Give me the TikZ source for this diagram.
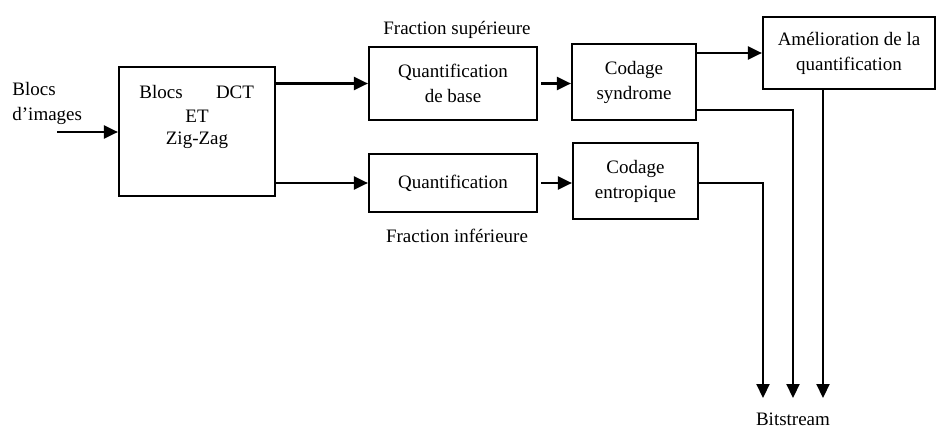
\documentclass[tikz,border=0pt]{standalone}
\usepackage{fontspec}
\setmainfont{Liberation Serif}
\usetikzlibrary{arrows.meta,calc}
\begin{document}
\begin{tikzpicture}[x=0.5pt,y=-0.5pt,
  txt/.style={font=\fontsize{9.5}{12.5}\selectfont},
  blk/.style={draw, line width=1.1pt, inner sep=0pt, align=center, txt},
  lbl/.style={inner sep=0pt, align=center, txt},
  arr/.style={line width=1.1pt, -{Triangle[length=7pt,width=6.5pt]}},
  wire/.style={line width=1.1pt}]
\useasboundingbox (0,0) rectangle (939,429);

% processing blocks
\node[blk, minimum width=78pt, minimum height=64.5pt] (dct) at (197,131.5) {};
\node[lbl] (dctA) at (161,92) {Blocs};
\node[lbl] (dctB) at (235,92) {DCT};
\node[lbl] (dctC) at (197,116) {ET};
\node[lbl] (dctD) at (197,140) {Zig-Zag};

\node[blk, minimum width=84pt, minimum height=36.5pt] (qb) at (453,83.5) {Quantification\\de base};
\node[blk, minimum width=84pt, minimum height=29pt] (q) at (453,183) {Quantification};
\node[blk, minimum width=62pt, minimum height=38pt] (cs) at (634,82) {Codage\\syndrome};
\node[blk, minimum width=62.5pt, minimum height=38pt] (ce) at (635.5,181) {Codage\\entropique};
\node[blk, minimum width=86pt, minimum height=36pt] (am) at (849,53) {Amélioration de la\\quantification};

% labels
\node[lbl, align=left, anchor=west] (inlbl) at (12,103) {Blocs\\d’images};
\node[lbl] (fsup) at (457,30) {Fraction supérieure};
\node[lbl] (finf) at (457,236) {Fraction inférieure};
\node[lbl] (bits) at (793,419) {Bitstream};

% end points
\coordinate (in) at (57,132);
\coordinate (b1) at (763,398);
\coordinate (b2) at (793,398);
\coordinate (b3) at (823,398);

% connectors
\draw[arr] (in) -- (in -| dct.west);
\draw[arr] (dct.east |- qb) -- (qb.west);
\draw[arr] (dct.east |- q) -- (q.west);
\draw[arr] ($(qb.east)+(3,0)$) -- (qb.east -| cs.west);
\draw[arr] ($(q.east)+(3,0)$) -- (q.east -| ce.west);
\draw[arr] (cs.east |- am) -- (am.west);
\draw[arr] ($(cs.south east)+(0,-11)$) -| (b2);
\draw[arr] ($(ce.east)+(0,2)$) -| (b1);
\draw[arr] (am.south -| b3) -- (b3);
\end{tikzpicture}
\end{document}
